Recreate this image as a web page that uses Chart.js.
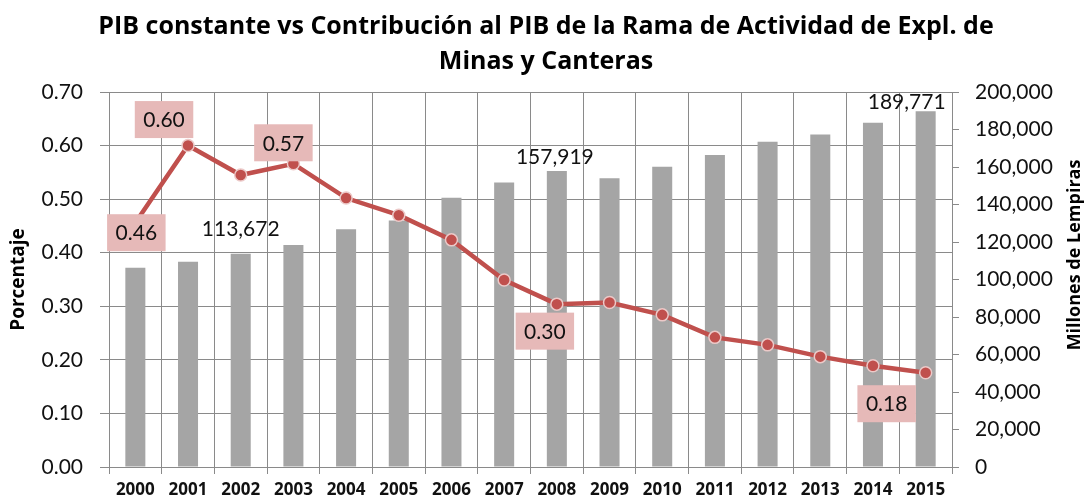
<!DOCTYPE html>
<html>
<head>
<meta charset="utf-8">
<script src="https://cdn.jsdelivr.net/npm/chart.js@4/dist/chart.umd.min.js"></script>
<style>
  body { margin: 0; background: #fff; }
  canvas { display: block; }
</style>
</head>
<body>
<canvas id="pibChart" width="1091" height="502"></canvas>
<script>
// Data
const years = ["2000", "2001", "2002", "2003", "2004", "2005", "2006", "2007",
  "2008", "2009", "2010", "2011", "2012", "2013", "2014", "2015"]

// PIB constante (millones de Lempiras), right axis
const pibConstante = [106300, 109500, 113672, 118400, 126800, 131500, 143600, 151800,
  157919, 154000, 160200, 166400, 173500, 177400, 183600, 189771]

// Contribucion al PIB (porcentaje), left axis
const contribucion = [0.456, 0.60, 0.545, 0.566, 0.502, 0.470, 0.424, 0.349,
  0.304, 0.307, 0.284, 0.242, 0.228, 0.206, 0.189, 0.176]

// which points carry a data label
const lineLabelIdx = [0, 1, 3, 8, 15]
const barLabelIdx = [2, 8, 15]

const FONT = "Lato, 'DejaVu Sans', sans-serif"
const BOLD_FONT = "'Open Sans', Lato, sans-serif"
const GRID = "#8a8a8a"

// label placement relative to the mark (dx, dy of the label centre)
const lineLabelOffset = { 0: [1, 10], 1: [-24, -26], 3: [-10, -21], 8: [-12, 27], 15: [-39, 31] }
const barLabelOffset = { 2: [0, -25], 8: [-2, -14], 15: [-19, -9] }

const labelsPlugin = {
  id: "labelsPlugin",
  afterDraw(chart) {
    const ctx = chart.ctx
    const area = chart.chartArea
    ctx.save()

    // title
    ctx.fillStyle = "#000"
    ctx.textAlign = "center"
    ctx.textBaseline = "middle"
    ctx.font = "bold 25px " + BOLD_FONT
    ctx.fillText("PIB constante vs Contribución al PIB de la Rama de Actividad de Expl. de", 546, 27)
    ctx.fillText("Minas y Canteras", 546, 62)

    // axis titles
    ctx.font = "bold 19px " + BOLD_FONT
    ctx.save()
    ctx.translate(19, (area.top + area.bottom) / 2)
    ctx.rotate(-Math.PI / 2)
    ctx.fillText("Porcentaje", 0, 0)
    ctx.restore()
    ctx.font = "bold 18px " + BOLD_FONT
    ctx.save()
    ctx.translate(1075, 255)
    ctx.rotate(-Math.PI / 2)
    ctx.fillText("Millones de Lempiras", 0, 0)
    ctx.restore()

    // bar value labels
    const barMeta = chart.getDatasetMeta(0)
    ctx.font = "21px " + FONT
    ctx.fillStyle = "#111"
    barLabelIdx.forEach((i) => {
      const el = barMeta.data[i]
      const off = barLabelOffset[i]
      ctx.fillText(pibConstante[i].toLocaleString("en-US"), el.x + off[0], el.y + off[1])
    })

    // line value labels with pink boxes
    const lineMeta = chart.getDatasetMeta(1)
    lineLabelIdx.forEach((i) => {
      const el = lineMeta.data[i]
      const off = lineLabelOffset[i]
      const cx = el.x + off[0]
      const cy = el.y + off[1]
      const text = contribucion[i].toFixed(2)
      const w = ctx.measureText(text).width + 17
      const h = 37
      ctx.fillStyle = "#e6b9b8"
      ctx.fillRect(cx - w / 2, cy - h / 2, w, h)
      ctx.fillStyle = "#111"
      ctx.fillText(text, cx, cy + 1)
    })

    ctx.restore()
  },
}

const chartCtx = document.getElementById("pibChart")
const pibChart = new Chart(chartCtx, {
  data: {
    labels: years,
    datasets: [
      {
        type: "bar",
        label: "PIB constante",
        data: pibConstante,
        yAxisID: "yRight",
        backgroundColor: "#a5a5a5",
        barPercentage: 0.76,
        categoryPercentage: 0.5,
        order: 2,
      },
      {
        type: "line",
        label: "Contribución al PIB",
        data: contribucion,
        yAxisID: "yLeft",
        borderColor: "#c0504d",
        borderWidth: 4.5,
        pointRadius: 6,
        pointBackgroundColor: "#c0504d",
        pointBorderColor: "#ecc9c8",
        pointBorderWidth: 1.5,
        tension: 0,
        order: 1,
      },
    ],
  },
  options: {
    responsive: false,
    animation: false,
    layout: { padding: { top: 92, left: 0, right: 0, bottom: 0 } },
    plugins: {
      legend: { display: false },
      tooltip: { enabled: false },
      title: { display: false },
    },
    scales: {
      x: {
        type: "category",
        offset: true,
        grid: { color: GRID, offset: true, tickLength: 7 },
        border: { color: GRID },
        ticks: {
          color: "#111",
          font: { family: BOLD_FONT, size: 17, weight: "bold" },
          padding: 6,
          maxRotation: 0,
          autoSkip: false,
        },
        afterFit: (scale) => { scale.height = 35 },
      },
      yLeft: {
        position: "left",
        min: 0,
        max: 0.7,
        ticks: {
          stepSize: 0.1,
          color: "#111",
          font: { family: FONT, size: 21 },
          padding: 17,
          callback: (value) => value.toFixed(2),
        },
        grid: { color: GRID, tickLength: 9 },
        border: { color: GRID },
        afterFit: (scale) => { scale.width = 109 },
      },
      yRight: {
        position: "right",
        min: 0,
        max: 200000,
        ticks: {
          stepSize: 20000,
          color: "#111",
          font: { family: FONT, size: 21 },
          padding: 16,
          callback: (value) => value.toLocaleString("en-US"),
        },
        grid: { drawOnChartArea: false, color: GRID, tickLength: 7 },
        border: { color: GRID },
        afterFit: (scale) => { scale.width = 139 },
      },
    },
  },
  plugins: [labelsPlugin],
})
</script>
</body>
</html>
